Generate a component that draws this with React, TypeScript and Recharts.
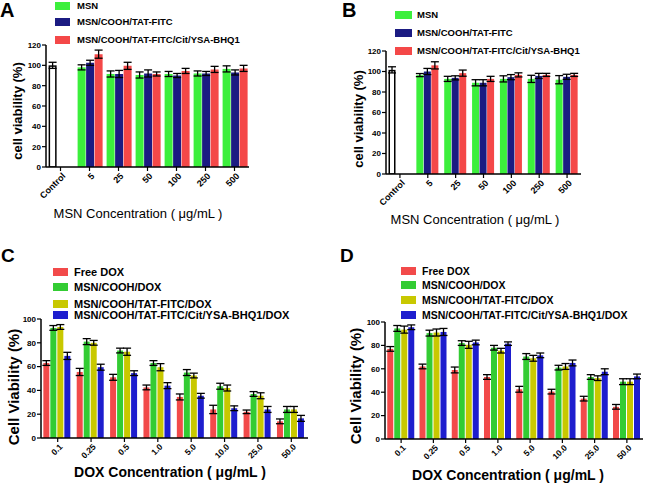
import React from 'react';
import { BarChart, Bar, XAxis, YAxis, ErrorBar } from 'recharts';

const FONT = '"Liberation Sans", Arial, Helvetica, sans-serif';

// ---------- Panel A / B data (MSN concentration) ----------
const msnCategories = ['5', '25', '50', '100', '250', '500'];
const controlLabel = 'Control';
const abSeriesNames = ['MSN', 'MSN/COOH/TAT-FITC', 'MSN/COOH/TAT-FITC/Cit/YSA-BHQ1'];
const abColors = ['#3cef3c', '#1b1b82', '#f44848'];

const aControl = 100;
const aControlErr = 3;
const aMsn = [98, 91.5, 90.5, 91.5, 92, 96.5];
const aMsnErr = [2.5, 3, 3, 2.5, 2.5, 3];
const aTat = [102.5, 91.5, 92, 90, 92, 93];
const aTatErr = [2.5, 3.5, 3.5, 2, 2, 2.5];
const aBhq = [111, 99.5, 91.5, 94.5, 96, 97];
const aBhqErr = [4, 3.5, 2, 2.5, 3, 3];

const bControl = 101.6;
const bControlErr = 3;
const bMsn = [96.5, 92.8, 89, 92.8, 92.8, 92];
const bMsnErr = [1.5, 2.5, 3, 3, 3.5, 4];
const bTat = [100, 93.8, 89, 94.5, 95.7, 94.8];
const bTatErr = [3, 2, 3, 2.5, 2.5, 2.5];
const bBhq = [106, 98.4, 92.8, 96.7, 96.7, 96.7];
const bBhqErr = [3.5, 3, 2.5, 2, 1.5, 1.5];

const abTicks = [0, 20, 40, 60, 80, 100, 120];

// ---------- Panel C / D data (DOX concentration) ----------
const doxCategories = ['0.1', '0.25', '0.5', '1.0', '5.0', '10.0', '25.0', '50.0'];
const cdSeriesNames = ['Free DOX', 'MSN/COOH/DOX', 'MSN/COOH/TAT-FITC/DOX', 'MSN/COOH/TAT-FITC/Cit/YSA-BHQ1/DOX'];
const cdColors = ['#f24a4a', '#33cc33', '#c8c800', '#1e1ece'];

const cFree = [63, 55.5, 51, 42.5, 34.5, 24, 22, 14];
const cFreeErr = [2, 3, 2.5, 2, 2.5, 3.5, 1.5, 2];
const cCooh = [92.5, 81, 73.5, 63, 55, 43.5, 37, 24];
const cCoohErr = [2, 2.5, 2, 2, 2.5, 2.5, 2, 2.5];
const cTat = [93.3, 80, 72.5, 59.5, 52.5, 42, 35.5, 24];
const cTatErr = [2, 2, 3, 3, 2, 2.5, 2.5, 2.5];
const cBhq = [69, 59.5, 54.5, 44, 35.5, 25, 24, 16.5];
const cBhqErr = [3, 2.5, 2, 2.5, 2, 2, 2.5, 2.5];

const dFree = [77, 62, 59, 53, 42.5, 40.5, 34.5, 27.5];
const dFreeErr = [2, 2, 2.5, 2, 2.5, 2, 2, 2];
const dCooh = [94.5, 90.5, 82, 78, 70.5, 61, 53, 49];
const dCoohErr = [2.5, 2.5, 2, 2, 2.5, 2, 2, 2.5];
const dTat = [93.5, 91, 80.5, 75.5, 69, 62, 52, 49];
const dTatErr = [3, 3, 3, 2, 2.5, 2.5, 2, 2.5];
const dBhq = [95.5, 91.5, 82.5, 81.5, 71.5, 65, 57.5, 53.5];
const dBhqErr = [2, 3, 2, 1.5, 2, 2.5, 2.5, 2];

const cdTicks = [0, 20, 40, 60, 80, 100];

// ---------- build tables ----------
const buildAB = (ctrl: number, ctrlErr: number, s: number[][], e: number[][]) => [
  { cat: controlLabel, s0: ctrl, e0: ctrlErr, s1: null, e1: null, s2: null, e2: null },
  ...msnCategories.map((c, i) => ({
    cat: c,
    s0: s[0][i], e0: e[0][i],
    s1: s[1][i], e1: e[1][i],
    s2: s[2][i], e2: e[2][i],
  })),
];

const buildCD = (s: number[][], e: number[][]) =>
  doxCategories.map((c, i) => {
    const row: any = { cat: c };
    s.forEach((arr, k) => {
      row['s' + k] = arr[i];
      row['e' + k] = e[k][i];
    });
    return row;
  });

const dataA = buildAB(aControl, aControlErr, [aMsn, aTat, aBhq], [aMsnErr, aTatErr, aBhqErr]);
const dataB = buildAB(bControl, bControlErr, [bMsn, bTat, bBhq], [bMsnErr, bTatErr, bBhqErr]);
const dataC = buildCD([cFree, cCooh, cTat, cBhq], [cFreeErr, cCoohErr, cTatErr, cBhqErr]);
const dataD = buildCD([dFree, dCooh, dTat, dBhq], [dFreeErr, dCoohErr, dTatErr, dBhqErr]);

// ---------- helpers ----------
const makeShape = (color: string) => (props: any) => {
  const { x, y, width, height, payload } = props;
  if (x == null || height == null || isNaN(height)) return <g />;
  if (payload && payload.cat === controlLabel) {
    return (
      <rect x={x + 0.75} y={y + 0.75} width={Math.max(width - 1.5, 0)} height={Math.max(height - 0.75, 0)}
        fill="#ffffff" stroke="#000000" strokeWidth={1.5} />
    );
  }
  return <rect x={x} y={y} width={width} height={height} fill={color} />;
};

const RotTick = (props: any) => {
  const { x, y, payload, fontSize } = props;
  return (
    <g transform={`translate(${x + 1},${y + 1})`}>
      <text x={0} y={0} dy="0.72em" textAnchor="end" transform="rotate(-45)"
        fontSize={fontSize} fontWeight="bold" fontFamily={FONT} fill="#000">
        {payload.value}
      </text>
    </g>
  );
};

type PanelProps = {
  left: number; top: number; data: any[]; colors: string[]; names: string[];
  margin: any; yAxisWidth: number; xAxisHeight: number; domain: [number, number];
  ticks: number[]; barCategoryGap: string; barGap: number; xTickSize: number; control?: boolean;
};

const Panel = (p: PanelProps) => (
  <div style={{ position: 'absolute', left: p.left, top: p.top }}>
    <BarChart width={325} height={242} data={p.data} margin={p.margin}
      barCategoryGap={p.barCategoryGap} barGap={p.barGap}>
      <XAxis dataKey="cat" height={p.xAxisHeight} interval={0}
        axisLine={{ stroke: '#000', strokeWidth: 1.5 }} tickLine={{ stroke: '#000', strokeWidth: 1.2 }}
        tickSize={4} tickMargin={0}
        tick={<RotTick fontSize={p.xTickSize} />} />
      <YAxis width={p.yAxisWidth} domain={p.domain} ticks={p.ticks} interval={0}
        allowDataOverflow
        axisLine={{ stroke: '#000', strokeWidth: 1.5 }} tickLine={{ stroke: '#000', strokeWidth: 1.2 }}
        tickSize={4} tickMargin={1}
        tick={{ fontSize: 8, fontWeight: 'bold', fill: '#000', fontFamily: FONT }} />
      {p.colors.map((c, k) => (
        <Bar key={k} dataKey={'s' + k} name={p.names[k]} fill={c} isAnimationActive={false}
          shape={p.control && k === 0 ? makeShape(c) : undefined}>
          <ErrorBar dataKey={'e' + k} width={4} stroke="#000" strokeWidth={1.3} direction="y" />
        </Bar>
      ))}
    </BarChart>
  </div>
);

const LegendBox = (props: { x: number; rows: number[]; w: number; textX: number; fontSize: number; names: string[]; colors: string[] }) => (
  <>
    {props.names.map((n, i) => (
      <div key={i} style={{ position: 'absolute', left: props.x, top: props.rows[i] - 10, height: 20, display: 'flex', alignItems: 'center' }}>
        <div style={{ width: props.w, height: 8, background: props.colors[i] }} />
        <div style={{ position: 'absolute', left: props.textX - props.x, whiteSpace: 'nowrap', fontFamily: FONT, fontWeight: 'bold', fontSize: props.fontSize, lineHeight: '20px', color: '#000' }}>{n}</div>
      </div>
    ))}
  </>
);

const Title = (props: { cx: number; cy: number; text: string; size: number; bold?: boolean; rotate?: boolean }) => (
  <div style={{
    position: 'absolute', left: props.cx, top: props.cy, whiteSpace: 'nowrap',
    transform: `translate(-50%,-50%)${props.rotate ? ' rotate(-90deg)' : ''}`,
    fontFamily: FONT, fontSize: props.size, fontWeight: props.bold ? 'bold' : 'normal', lineHeight: 1.15, color: '#000',
  }}>{props.text}</div>
);

const Letter = (props: { x: number; y: number; t: string; size: number }) => (
  <div style={{ position: 'absolute', left: props.x, top: props.y, fontFamily: FONT, fontWeight: 'bold', fontSize: props.size, lineHeight: 1, color: '#000' }}>{props.t}</div>
);

export default function App() {
  return (
    <div style={{ position: 'absolute', left: 0, top: 0, width: 650, height: 484, background: '#fff', overflow: 'hidden' }}>
      <Panel left={0} top={0} data={dataA} colors={abColors} names={abSeriesNames} control
        margin={{ top: 45, right: 76, bottom: 25, left: 0 }} yAxisWidth={46} xAxisHeight={50}
        domain={[0, 120]} ticks={abTicks} barCategoryGap="9%" barGap={0.5} xTickSize={9} />
      <Panel left={325} top={0} data={dataB} colors={abColors} names={abSeriesNames} control
        margin={{ top: 51, right: 69, bottom: 18, left: 0 }} yAxisWidth={61} xAxisHeight={50}
        domain={[0, 120]} ticks={abTicks} barCategoryGap="9%" barGap={0.5} xTickSize={9} />
      <Panel left={0} top={242} data={dataC} colors={cdColors} names={cdSeriesNames}
        margin={{ top: 77, right: 17, bottom: 16, left: 0 }} yAxisWidth={41} xAxisHeight={30}
        domain={[0, 100]} ticks={cdTicks} barCategoryGap="7%" barGap={1} xTickSize={8.5} />
      <Panel left={325} top={242} data={dataD} colors={cdColors} names={cdSeriesNames}
        margin={{ top: 80, right: 7, bottom: 15, left: 0 }} yAxisWidth={60} xAxisHeight={30}
        domain={[0, 100]} ticks={cdTicks} barCategoryGap="7%" barGap={1} xTickSize={8.5} />

      <LegendBox x={55} rows={[5.5, 22, 40]} w={15} textX={77} fontSize={9.5} names={abSeriesNames} colors={abColors} />
      <LegendBox x={395} rows={[15, 32.5, 51]} w={17} textX={417} fontSize={9.5} names={abSeriesNames} colors={abColors} />
      <LegendBox x={53} rows={[272, 287, 303.5, 315]} w={15} textX={74} fontSize={11} names={cdSeriesNames} colors={cdColors} />
      <LegendBox x={401} rows={[271, 285, 300, 315]} w={15} textX={422} fontSize={10.5} names={cdSeriesNames} colors={cdColors} />

      <Title cx={138} cy={214} text="MSN Concentration ( μg/mL )" size={13} />
      <Title cx={475} cy={220} text="MSN Concentration ( μg/mL )" size={13} />
      <Title cx={170} cy={472} text="DOX Concentration ( μg/mL )" size={14} bold />
      <Title cx={508} cy={475} text="DOX Concentration ( μg/mL )" size={14} bold />

      <Title cx={17.5} cy={110.5} text="cell viability (%)" size={13} bold rotate />
      <Title cx={359} cy={119} text="cell viability (%)" size={13} bold rotate />
      <Title cx={14} cy={387} text="Cell Viability (%)" size={15} bold rotate />
      <Title cx={355.5} cy={386} text="Cell Viability (%)" size={15} bold rotate />

      <Letter x={0} y={0} t="A" size={20} />
      <Letter x={342} y={0} t="B" size={20} />
      <Letter x={1} y={246} t="C" size={19} />
      <Letter x={340} y={246} t="D" size={19} />
    </div>
  );
}
